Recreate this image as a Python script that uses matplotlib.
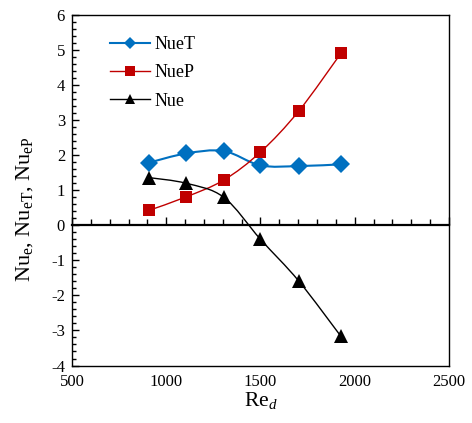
import numpy as np
import matplotlib
matplotlib.use("Agg")
import matplotlib.pyplot as plt
from matplotlib.path import Path
from matplotlib.patches import PathPatch
from matplotlib.lines import Line2D
from matplotlib.ticker import MultipleLocator

re_d = [910, 1105, 1305, 1500, 1703, 1927]
nue_t = [1.79, 2.05, 2.12, 1.71, 1.69, 1.74]
nue_p = [0.43, 0.81, 1.29, 2.09, 3.26, 4.91]
nue = [1.36, 1.20, 0.80, -0.40, -1.59, -3.17]
series_names = ["NueT", "NueP", "Nue"]
x_ticks = [500, 1000, 1500, 2000, 2500]
y_ticks = [-4, -3, -2, -1, 0, 1, 2, 3, 4, 5, 6]

plt.rcParams['font.family'] = ['Liberation Serif', 'DejaVu Serif']
plt.rcParams['mathtext.fontset'] = 'custom'
plt.rcParams['mathtext.rm'] = 'Liberation Serif'
plt.rcParams['mathtext.it'] = 'Liberation Serif:italic'
plt.rcParams['axes.unicode_minus'] = False

fig = plt.figure(figsize=(4.72, 4.23), dpi=100)
ax = fig.add_axes([0.1525, 0.1359, 0.7988, 0.8286])


def smooth_path(xs, ys):
    pts = np.column_stack([xs, ys]).astype(float)
    n = len(pts)
    verts = [pts[0]]
    codes = [Path.MOVETO]
    for i in range(n - 1):
        p0 = pts[i - 1] if i > 0 else pts[i]
        p1 = pts[i]
        p2 = pts[i + 1]
        p3 = pts[i + 2] if i + 2 < n else pts[i + 1]
        c1 = p1 + (p2 - p0) / 6.0
        c2 = p2 - (p3 - p1) / 6.0
        verts += [c1, c2, p2]
        codes += [Path.CURVE4] * 3
    return Path(verts, codes)


styles = [
    (nue_t, "#0070C0", "D", 9.0, 1.5, 6.5),
    (nue_p, "#C00000", "s", 9.0, 1.0, 6.5),
    (nue, "#000000", "^", 10.5, 1.0, 7.0),
]
handles = []
for (ys, c, m, ms, lw, lms), name in zip(styles, series_names):
    ax.add_patch(PathPatch(smooth_path(re_d, ys), fill=False, edgecolor=c,
                           lw=lw, zorder=2))
    ax.plot(re_d, ys, linestyle="none", marker=m, color=c, markersize=ms,
            markeredgewidth=0, zorder=3)
    handles.append(Line2D([], [], color=c, lw=lw, marker=m, markersize=lms,
                          markeredgewidth=0, label=name))

ax.set_xlim(500, 2500)
ax.set_ylim(-4, 6)
ax.set_xticks(x_ticks)
ax.set_yticks(y_ticks)
ax.yaxis.set_minor_locator(MultipleLocator(0.2))
ax.tick_params(axis='y', which='major', direction='in', length=5, width=1,
               labelsize=12, pad=5)
ax.tick_params(axis='y', which='minor', direction='in', length=3, width=1)
ax.tick_params(axis='x', which='both', length=0, labelsize=12, pad=6)
for s in ax.spines.values():
    s.set_linewidth(1.0)
    s.set_color("black")

# zero line with upward ticks
sec = ax.secondary_xaxis(0.4)
sec.set_xticks(x_ticks)
sec.xaxis.set_minor_locator(MultipleLocator(100))
sec.tick_params(axis='x', which='major', direction='in', length=5.5, width=1,
                labelbottom=False)
sec.tick_params(axis='x', which='minor', direction='in', length=4, width=1)
sec.spines['bottom'].set_linewidth(1.6)

ax.set_xlabel(r"Re$_{\mathit{d}}$", fontsize=15.5, labelpad=0)
ax.set_ylabel(r"Nu$_{\mathrm{e}}$, Nu$_{\mathrm{eT}}$, Nu$_{\mathrm{eP}}$",
              fontsize=16)
ax.yaxis.set_label_coords(-0.098, 0.447)

ax.legend(handles=handles, loc="upper left", bbox_to_anchor=(0.081, 0.96),
          frameon=False, fontsize=13, handlelength=2.25, handletextpad=0.25,
          labelspacing=0.62, borderaxespad=0)

fig.savefig("out.png", dpi=100)
